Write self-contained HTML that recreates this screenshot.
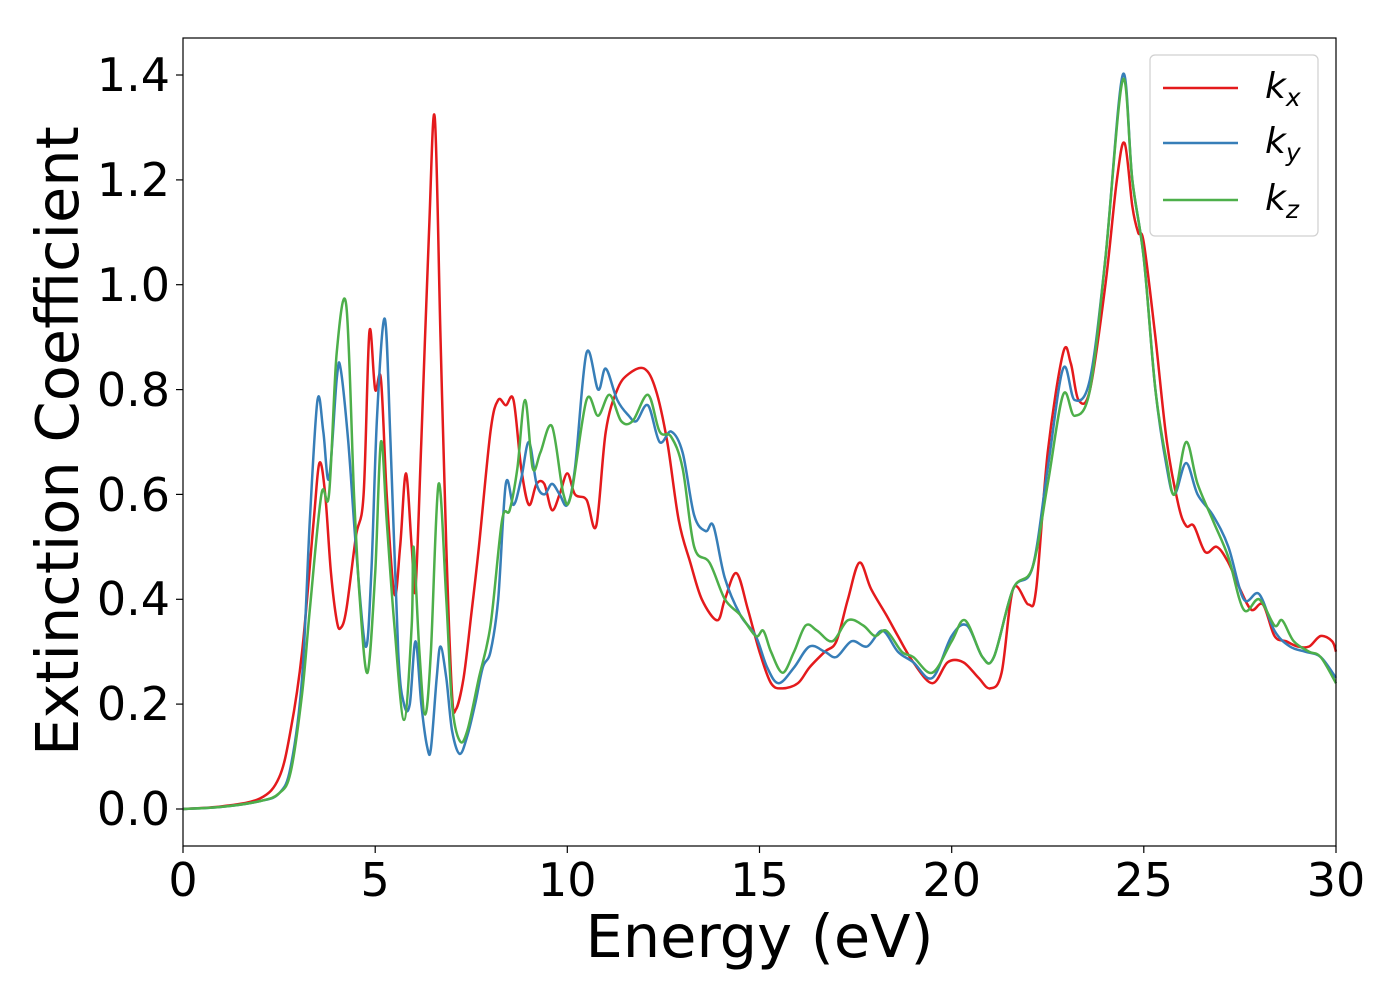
<!DOCTYPE html>
<html><head><meta charset="utf-8"><style>
html,body{margin:0;padding:0;background:#fff;}
svg text{font-family:"DejaVu Sans","Liberation Sans",sans-serif;fill:#000;}
</style></head><body>
<svg id="s" width="1400" height="1000" xmlns="http://www.w3.org/2000/svg">
<rect width="1400" height="1000" fill="#fff"/>
<g id="series" fill="none" stroke-width="2.5" stroke-linejoin="round"></g>
<rect x="183" y="38" width="1153" height="808" fill="none" stroke="#000" stroke-width="1.2"/>
<g stroke="#000" stroke-width="1.2">
<line x1="183" y1="846" x2="183" y2="853"/><line x1="375.2" y1="846" x2="375.2" y2="853"/>
<line x1="567.3" y1="846" x2="567.3" y2="853"/><line x1="759.5" y1="846" x2="759.5" y2="853"/>
<line x1="951.7" y1="846" x2="951.7" y2="853"/><line x1="1143.8" y1="846" x2="1143.8" y2="853"/>
<line x1="1336" y1="846" x2="1336" y2="853"/>
<line x1="176" y1="809" x2="183" y2="809"/><line x1="176" y1="704.1" x2="183" y2="704.1"/>
<line x1="176" y1="599.3" x2="183" y2="599.3"/><line x1="176" y1="494.4" x2="183" y2="494.4"/>
<line x1="176" y1="389.6" x2="183" y2="389.6"/><line x1="176" y1="284.7" x2="183" y2="284.7"/>
<line x1="176" y1="179.9" x2="183" y2="179.9"/><line x1="176" y1="75" x2="183" y2="75"/>
</g>
<g font-size="46" text-anchor="middle">
<text x="183" y="896">0</text><text x="375.2" y="896">5</text><text x="567.3" y="896">10</text>
<text x="759.5" y="896">15</text><text x="951.7" y="896">20</text><text x="1143.8" y="896">25</text>
<text x="1336" y="896">30</text>
</g>
<g font-size="46" text-anchor="end">
<text x="170" y="825">0.0</text><text x="170" y="720">0.2</text><text x="170" y="615">0.4</text>
<text x="170" y="511">0.6</text><text x="170" y="406">0.8</text><text x="170" y="301">1.0</text>
<text x="170" y="196">1.2</text><text x="170" y="91">1.4</text>
</g>
<text x="759.5" y="957" font-size="59" text-anchor="middle">Energy (eV)</text>
<text transform="translate(78,441) rotate(-90)" font-size="59" text-anchor="middle">Extinction Coefficient</text>
<rect x="1150" y="55" width="168" height="181" rx="5" fill="#fff" stroke="#ccc" stroke-width="1.2" opacity="0.9"/>
<line x1="1163" y1="88" x2="1238" y2="88" stroke="#e41a1c" stroke-width="2.5"/>
<line x1="1163" y1="143" x2="1238" y2="143" stroke="#377eb8" stroke-width="2.5"/>
<line x1="1163" y1="200" x2="1238" y2="200" stroke="#4daf4a" stroke-width="2.5"/>
<g font-size="36" font-style="italic">
<text x="1265" y="98">k<tspan font-size="25" dy="8">x</tspan></text>
<text x="1265" y="153">k<tspan font-size="25" dy="8">y</tspan></text>
<text x="1265" y="210">k<tspan font-size="25" dy="8">z</tspan></text>
</g>
</svg>
<script>
var R=[0,0,1,.005,2,.02,2.5,.06,2.8,.15,3.1,.3,3.4,.55,3.55,.66,3.7,.6,3.85,.45,4.0,.36,4.1,.345,4.25,.38,4.5,.52,4.7,.6,4.85,.91,5.0,.8,5.15,.82,5.3,.6,5.5,.41,5.65,.5,5.8,.64,5.95,.5,6.05,.42,6.2,.7,6.4,1.1,6.55,1.32,6.7,.9,6.85,.5,7.0,.22,7.1,.19,7.3,.25,7.5,.37,7.7,.5,8.0,.72,8.2,.78,8.4,.77,8.6,.78,8.8,.65,9.0,.58,9.2,.62,9.4,.62,9.6,.57,9.8,.6,10.0,.64,10.2,.6,10.5,.59,10.75,.54,11.0,.72,11.3,.8,11.6,.83,12.0,.84,12.3,.8,12.6,.7,12.9,.55,13.2,.47,13.5,.4,13.9,.36,14.1,.4,14.4,.45,14.7,.38,15.0,.3,15.3,.24,15.6,.23,16.0,.24,16.3,.27,16.7,.3,17.0,.32,17.3,.4,17.6,.47,17.9,.42,18.3,.37,18.6,.33,19.0,.28,19.5,.24,19.9,.28,20.3,.28,20.7,.25,21.0,.23,21.3,.26,21.6,.42,22.0,.39,22.2,.42,22.5,.68,22.9,.87,23.1,.85,23.3,.78,23.6,.8,24.0,1.0,24.3,1.2,24.5,1.27,24.7,1.15,24.85,1.1,25.0,1.08,25.3,.9,25.6,.7,25.9,.58,26.1,.54,26.3,.54,26.6,.49,26.9,.5,27.2,.47,27.5,.42,27.8,.38,28.1,.39,28.4,.33,28.7,.32,29.0,.31,29.3,.31,29.6,.33,29.9,.32,30,.3];
var B=[0,0,1,.004,2,.015,2.5,.03,2.8,.08,3.1,.25,3.3,.55,3.5,.78,3.65,.72,3.8,.63,4.0,.82,4.1,.84,4.3,.7,4.5,.5,4.75,.31,4.9,.45,5.05,.75,5.25,.935,5.4,.7,5.6,.3,5.75,.2,5.9,.2,6.05,.32,6.2,.2,6.35,.12,6.45,.115,6.6,.25,6.7,.31,6.85,.25,7.0,.15,7.2,.105,7.4,.14,7.6,.2,7.8,.27,8.0,.3,8.2,.4,8.4,.62,8.6,.58,8.8,.63,9.0,.7,9.2,.62,9.4,.6,9.6,.62,9.8,.6,10.0,.58,10.2,.65,10.5,.87,10.8,.8,11.0,.84,11.3,.78,11.6,.75,11.8,.74,12.1,.77,12.4,.7,12.7,.72,13.0,.68,13.3,.56,13.6,.53,13.8,.54,14.1,.44,14.5,.37,14.9,.33,15.2,.27,15.5,.24,15.9,.27,16.3,.31,16.7,.3,17.0,.29,17.4,.32,17.8,.31,18.2,.34,18.6,.3,19.0,.28,19.5,.25,20.0,.33,20.4,.35,20.8,.29,21.1,.29,21.6,.42,22.1,.46,22.5,.65,22.9,.84,23.2,.78,23.6,.82,24.0,1.05,24.45,1.4,24.7,1.2,25.0,1.05,25.3,.8,25.6,.65,25.8,.6,26.1,.66,26.4,.6,26.8,.56,27.2,.5,27.6,.4,28.0,.41,28.4,.34,28.8,.31,29.2,.3,29.6,.29,30,.25];
var G=[0,0,1,.004,2,.015,2.5,.03,2.8,.07,3.1,.22,3.3,.38,3.6,.6,3.8,.6,4.0,.87,4.25,.96,4.45,.6,4.6,.4,4.8,.26,5.0,.45,5.15,.7,5.3,.55,5.5,.35,5.75,.17,5.95,.35,6.0,.5,6.15,.3,6.3,.18,6.45,.3,6.65,.62,6.85,.4,7.0,.2,7.2,.13,7.4,.15,7.7,.25,8.0,.35,8.3,.55,8.5,.57,8.7,.65,8.9,.78,9.1,.65,9.3,.68,9.6,.73,9.9,.6,10.1,.6,10.5,.78,10.8,.75,11.1,.79,11.4,.74,11.7,.74,12.1,.79,12.4,.72,12.7,.71,13.0,.65,13.3,.5,13.7,.47,14.1,.4,14.5,.37,14.9,.33,15.1,.34,15.3,.3,15.6,.26,15.9,.3,16.2,.35,16.5,.34,16.9,.32,17.3,.36,17.7,.35,18.0,.33,18.3,.34,18.7,.3,19.0,.29,19.5,.26,20.0,.32,20.35,.36,20.8,.29,21.1,.29,21.6,.42,22.1,.46,22.5,.62,22.9,.79,23.2,.75,23.6,.8,24.0,1.05,24.45,1.39,24.7,1.2,25.0,1.05,25.3,.8,25.6,.66,25.8,.6,26.1,.7,26.4,.62,26.8,.55,27.2,.48,27.6,.38,28.0,.4,28.4,.35,28.6,.36,28.9,.32,29.3,.3,29.6,.29,30,.24];
function path(a){var p=[];for(var i=0;i<a.length;i+=2)p.push([183+a[i]*38.433,809-a[i+1]*524.3]);
var d="M"+p[0][0].toFixed(1)+","+p[0][1].toFixed(1);
for(var i=0;i<p.length-1;i++){var p0=p[i-1]||p[i],p1=p[i],p2=p[i+1],p3=p[i+2]||p2;
var c1x=p1[0]+(p2[0]-p0[0])/6,c1y=p1[1]+(p2[1]-p0[1])/6,c2x=p2[0]-(p3[0]-p1[0])/6,c2y=p2[1]-(p3[1]-p1[1])/6;
d+="C"+c1x.toFixed(1)+","+c1y.toFixed(1)+" "+c2x.toFixed(1)+","+c2y.toFixed(1)+" "+p2[0].toFixed(1)+","+p2[1].toFixed(1);}
return d;}
var g=document.getElementById("series"),ns="http://www.w3.org/2000/svg";
[[R,"#e41a1c"],[B,"#377eb8"],[G,"#4daf4a"]].forEach(function(s){var e=document.createElementNS(ns,"path");e.setAttribute("d",path(s[0]));e.setAttribute("stroke",s[1]);g.appendChild(e);});
</script>
</body></html>
